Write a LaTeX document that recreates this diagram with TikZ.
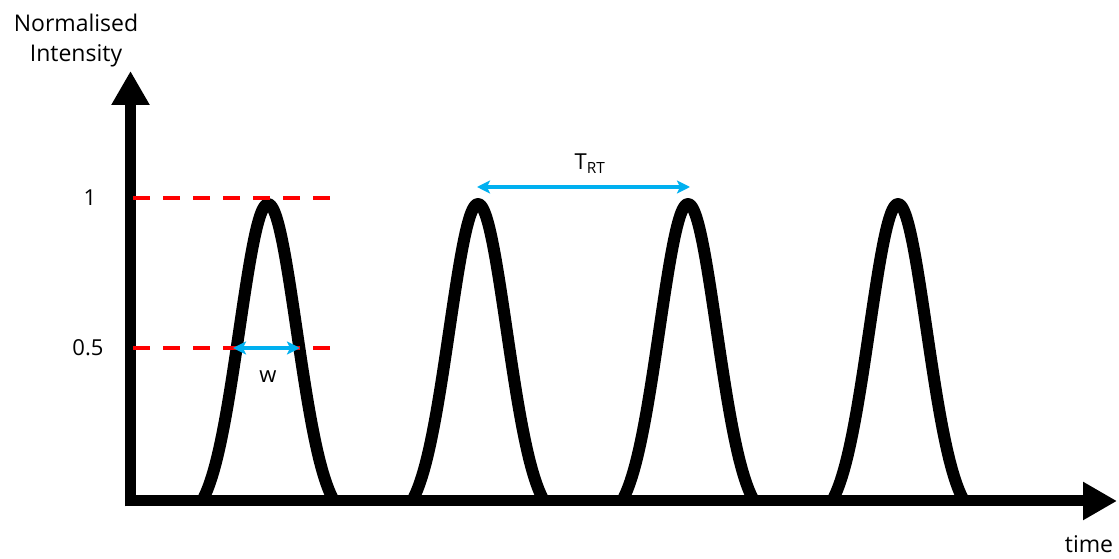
\documentclass[tikz,border=0pt]{standalone}
\usepackage{fontspec}
\setmainfont{Open Sans}
\usetikzlibrary{arrows.meta}
\definecolor{spancyan}{RGB}{0,176,240}
\definecolor{levelred}{RGB}{255,0,0}

\begin{document}
\begin{tikzpicture}[x=1pt, y=1pt, >={Stealth[length=13pt,width=13pt,inset=3pt]}]
        % Styles
        \tikzstyle{axis}=[line width=11pt, -{Triangle[length=34pt,width=36pt]}]
        \tikzstyle{pulse}=[line width=12pt, line join=round]
        \tikzstyle{level}=[levelred, line width=4pt, dash pattern=on 17pt off 13pt]
        \tikzstyle{span}=[spancyan, line width=4pt, <->]
        \tikzstyle{lbl}=[font=\fontsize{22}{30}\selectfont, inner sep=0pt, align=center]

        \useasboundingbox (0,0) rectangle (1119,559);

        % Coordinates
        \coordinate (corner) at (125,58);
        \coordinate (ybot)   at (130.5,52.5);
        \coordinate (ytip)   at (130.5,488);
        \coordinate (xtip)   at (1117,58);
        \coordinate (one-a)  at (133,361);
        \coordinate (one-b)  at (333,361);
        \coordinate (half-a) at (133,211);
        \coordinate (half-b) at (333,211);
        \coordinate (w-a)    at (233,211);
        \coordinate (w-b)    at (300,211);
        \coordinate (rt-a)   at (477,372);
        \coordinate (rt-b)   at (690,372);

        % Nodes
        \node[lbl, font=\fontsize{23}{30}\selectfont] (ylabel) at (76,518) {Normalised\\Intensity};
        \node[lbl, font=\fontsize{23}{30}\selectfont] (xlabel) at (1089,15) {time};
        \node[lbl] (one)  at (90,361) {1};
        \node[lbl] (half) at (88,211) {0.5};
        \node[lbl] (w)    at (268,182) {w};
        \node[lbl] (trt)  at (590,395) {T\textsubscript{RT}};

        % Axes
        \draw[axis] (ybot) -- (ytip);
        \draw[axis] (corner) -- (xtip);

        % Pulses
        \foreach \c in {268,478,688,898}
            \draw[pulse] plot[domain=-66:66, samples=80, smooth]
                ({\c+\x}, {58+297*(exp(-0.00061*\x*\x)-0.0702)/0.9298});

        % Levels
        \draw[level] (one-a) -- (one-b);
        \draw[level] (half-a) -- (half-b);

        % Arrows
        \draw[span] (w-a) -- (w-b);
        \draw[span] (rt-a) -- (rt-b);
    \end{tikzpicture}
\end{document}
